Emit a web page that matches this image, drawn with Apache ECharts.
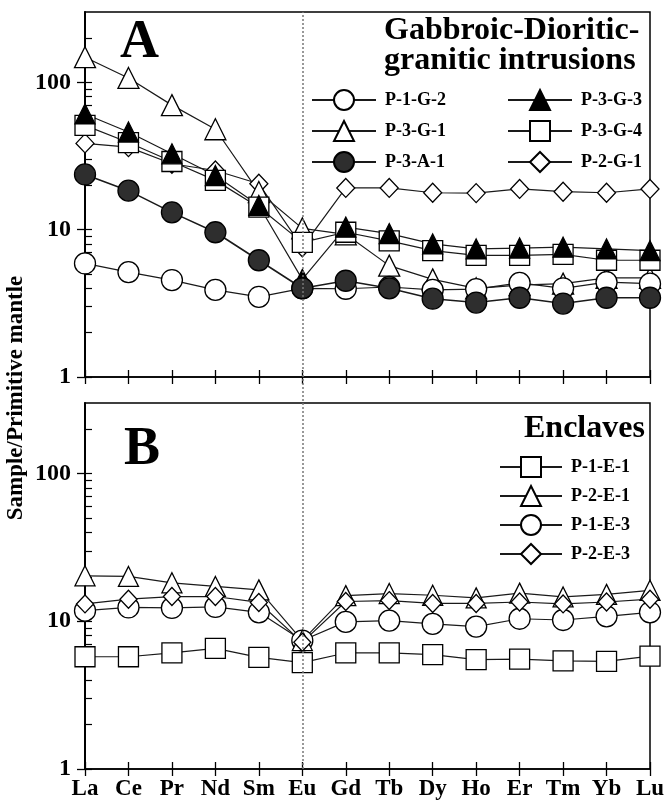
<!DOCTYPE html>
<html><head><meta charset="utf-8">
<script src="https://cdn.jsdelivr.net/npm/echarts@6/dist/echarts.min.js"></script>
<style>html,body{margin:0;padding:0;background:#fff}#c{width:667px;height:803px}</style>
</head><body><div id="c"></div>
<script>
const elements = ['La','Ce','Pr','Nd','Sm','Eu','Gd','Tb','Dy','Ho','Er','Tm','Yb','Lu'];
const majorTicks = [1, 10, 100];
const minorTicks = [2,3,4,5,6,7,8,9,20,30,40,50,60,70,80,90,200];
const yMin = 1, yMax = 300;

// Panel A: gabbroic-dioritic-granitic intrusions
const P_1_G_2 = [5.9, 5.15, 4.55, 3.9, 3.5, 4.0, 3.97, 4.08, 3.9, 3.95, 4.35, 4.0, 4.4, 4.3];
const P_3_G_1 = [148, 107, 70, 48, 18, 10.2, 9.3, 5.7, 4.6, 4.0, 4.2, 4.3, 4.7, 4.7];
const P_3_A_1 = [23.7, 18.4, 13.1, 9.6, 6.2, 4.0, 4.5, 4.0, 3.4, 3.2, 3.45, 3.15, 3.45, 3.45];
const P_3_G_3 = [61, 46, 32.7, 23.3, 14.6, 4.6, 10.4, 9.4, 8.0, 7.4, 7.5, 7.6, 7.4, 7.2];
const P_3_G_4 = [51, 39, 29, 21.6, 14.2, 8.2, 9.6, 8.4, 7.2, 6.7, 6.7, 6.8, 6.2, 6.2];
const P_2_G_1 = [38.5, 36.3, 28, 25.2, 20.5, 7.6, 19.2, 19.2, 17.8, 17.7, 18.9, 18.1, 17.8, 18.9];

// Panel B: enclaves
const P_1_E_1 = [5.75, 5.75, 6.1, 6.55, 5.7, 5.25, 6.1, 6.1, 5.95, 5.5, 5.55, 5.4, 5.35, 5.8];
const P_2_E_1 = [20.3, 20.1, 18.2, 17.2, 16.3, 7.4, 14.9, 15.4, 15.0, 14.4, 15.5, 14.6, 15.2, 16.2];
const P_1_E_3 = [11.8, 12.4, 12.3, 12.5, 11.5, 7.4, 9.9, 10.1, 9.6, 9.2, 10.4, 10.2, 10.8, 11.5];
const P_2_E_3 = [13.1, 14.1, 14.7, 14.7, 13.4, 7.2, 13.6, 13.8, 13.2, 13.2, 13.5, 13.1, 13.5, 14.1];

const FONT = "'Liberation Serif', 'Times New Roman', serif";
const L = Math.log10;
const logMax = L(yMax);

function ser(name, data, symbol, size, fill, xi, yi, lw) {
  return {
    name, type: 'line', data, xAxisIndex: xi, yAxisIndex: yi,
    symbol, symbolSize: size, showAllSymbol: true,
    lineStyle: { color: '#1a1a1a', width: lw || 1.2 },
    itemStyle: { color: fill, borderColor: '#000', borderWidth: 1.3 },
    emphasis: { disabled: true }, silent: true, z: 3
  };
}

function xAxes(gi, labels) {
  return [
    { type: 'category', data: elements, gridIndex: gi, boundaryGap: false, position: 'bottom',
      axisLine: { show: true, lineStyle: { color: '#000', width: 1.5 } },
      axisTick: { show: true, inside: false, length: 7, alignWithLabel: true, lineStyle: { color: '#000', width: 1.3 } },
      axisLabel: { show: labels, color: '#000', fontFamily: FONT, fontWeight: 'bold', fontSize: 23, margin: 9, interval: 0 },
      splitLine: { show: false } },
    { type: 'category', data: elements, gridIndex: gi, boundaryGap: false, position: 'bottom',
      axisLine: { show: false },
      axisTick: { show: true, inside: true, length: 7, lineStyle: { color: '#000', width: 1.3 } },
      axisLabel: { show: false }, splitLine: { show: false } }
  ];
}

function yAxes(gi) {
  return [
    { type: 'log', logBase: 10, min: yMin, max: yMax, gridIndex: gi, position: 'left', show: false },
    { type: 'value', min: 0, max: logMax, gridIndex: gi, position: 'left',
      axisLine: { show: true, lineStyle: { color: '#000', width: 2 } },
      axisTick: { show: true, inside: false, length: 8, customValues: majorTicks.map(L), lineStyle: { color: '#000', width: 1.3 } },
      axisLabel: { show: true, customValues: majorTicks.map(L), formatter: v => String(Math.round(Math.pow(10, v))),
        color: '#000', fontFamily: FONT, fontWeight: 'bold', fontSize: 24, margin: 14 },
      splitLine: { show: false } },
    { type: 'value', min: 0, max: logMax, gridIndex: gi, position: 'left',
      axisLine: { show: false },
      axisTick: { show: true, inside: true, length: 7, customValues: majorTicks.concat(minorTicks).map(L), lineStyle: { color: '#000', width: 1.2 } },
      axisLabel: { show: false }, splitLine: { show: false } }
  ];
}

const legendText = { color: '#000', fontFamily: FONT, fontWeight: 'bold', fontSize: 18, padding: [0, 0, 0, 4] };
const legBase = { orient: 'vertical', itemWidth: 64, itemHeight: 25, selectedMode: false, textStyle: legendText };

const option = {
  animation: false,
  backgroundColor: '#fff',
  grid: [
    { left: 85, right: 17, top: 12, height: 365, show: true, borderColor: '#000', borderWidth: 1.5, outerBoundsMode: 'none' },
    { left: 85, right: 17, top: 403, height: 366, show: true, borderColor: '#000', borderWidth: 1.5, outerBoundsMode: 'none' },
    { left: 85, right: 17, top: 12, height: 757, show: false, outerBoundsMode: 'none' }
  ],
  xAxis: [
    ...xAxes(0, false),
    ...xAxes(1, true),
    { type: 'category', data: elements, gridIndex: 2, boundaryGap: false, show: false }
  ],
  yAxis: [
    ...yAxes(0),
    ...yAxes(1),
    { type: 'value', min: 0, max: 1, gridIndex: 2, show: false }
  ],
  title: [
    { text: 'A', left: 115, top: 11, textStyle: { fontFamily: FONT, fontWeight: 'bold', fontSize: 54, color: '#000', lineHeight: 54 } },
    { text: 'Gabbroic-Dioritic-\ngranitic intrusions', left: 379, top: 11, textStyle: { fontFamily: FONT, fontWeight: 'bold', fontSize: 32, color: '#000', lineHeight: 30 } },
    { text: 'B', left: 119, top: 418, textStyle: { fontFamily: FONT, fontWeight: 'bold', fontSize: 54, color: '#000', lineHeight: 54 } },
    { text: 'Enclaves', left: 519, top: 408, textStyle: { fontFamily: FONT, fontWeight: 'bold', fontSize: 32, color: '#000', lineHeight: 32 } }
  ],
  legend: [
    Object.assign({}, legBase, { left: 306, top: 84, itemGap: 9, data: ['P-1-G-2', 'P-3-G-1', 'P-3-A-1'] }),
    Object.assign({}, legBase, { left: 502, top: 84, itemGap: 9, data: ['P-3-G-3', 'P-3-G-4', 'P-2-G-1'] }),
    Object.assign({}, legBase, { left: 494, top: 451, itemGap: 7, itemWidth: 62, data: ['P-1-E-1', 'P-2-E-1', 'P-1-E-3', 'P-2-E-3'] })
  ],
  graphic: [
    { type: 'text', x: 16, y: 398, rotation: Math.PI / 2,
      style: { text: 'Sample/Primitive mantle', fill: '#000', font: "bold 23px 'Liberation Serif', serif", align: 'center', verticalAlign: 'middle' } }
  ],
  series: [
    { type: 'line', data: [], xAxisIndex: 4, yAxisIndex: 6, z: 1, silent: true,
      markLine: { silent: true, symbol: ['none', 'none'], label: { show: false },
        lineStyle: { color: '#777', type: [2, 2], width: 1.5 }, data: [{ xAxis: 'Eu' }] } },
    ser('P-2-G-1', P_2_G_1, 'diamond', [18, 19], '#fff', 0, 0),
    ser('P-3-G-1', P_3_G_1, 'triangle', 21, '#fff', 0, 0),
    ser('P-3-G-4', P_3_G_4, 'rect', 20, '#fff', 0, 0),
    ser('P-1-G-2', P_1_G_2, 'circle', 21, '#fff', 0, 0),
    ser('P-3-G-3', P_3_G_3, 'triangle', 20, '#000', 0, 0),
    ser('P-3-A-1', P_3_A_1, 'circle', 21, '#2e2e2e', 0, 0, 1.6),
    ser('P-1-E-1', P_1_E_1, 'rect', 20, '#fff', 2, 3),
    ser('P-1-E-3', P_1_E_3, 'circle', 21, '#fff', 2, 3),
    ser('P-2-E-1', P_2_E_1, 'triangle', 20, '#fff', 2, 3),
    ser('P-2-E-3', P_2_E_3, 'diamond', [17, 18], '#fff', 2, 3)
  ]
};

const chart = echarts.init(document.getElementById('c'), null, { renderer: 'canvas' });
chart.setOption(option);
</script>
</body></html>
